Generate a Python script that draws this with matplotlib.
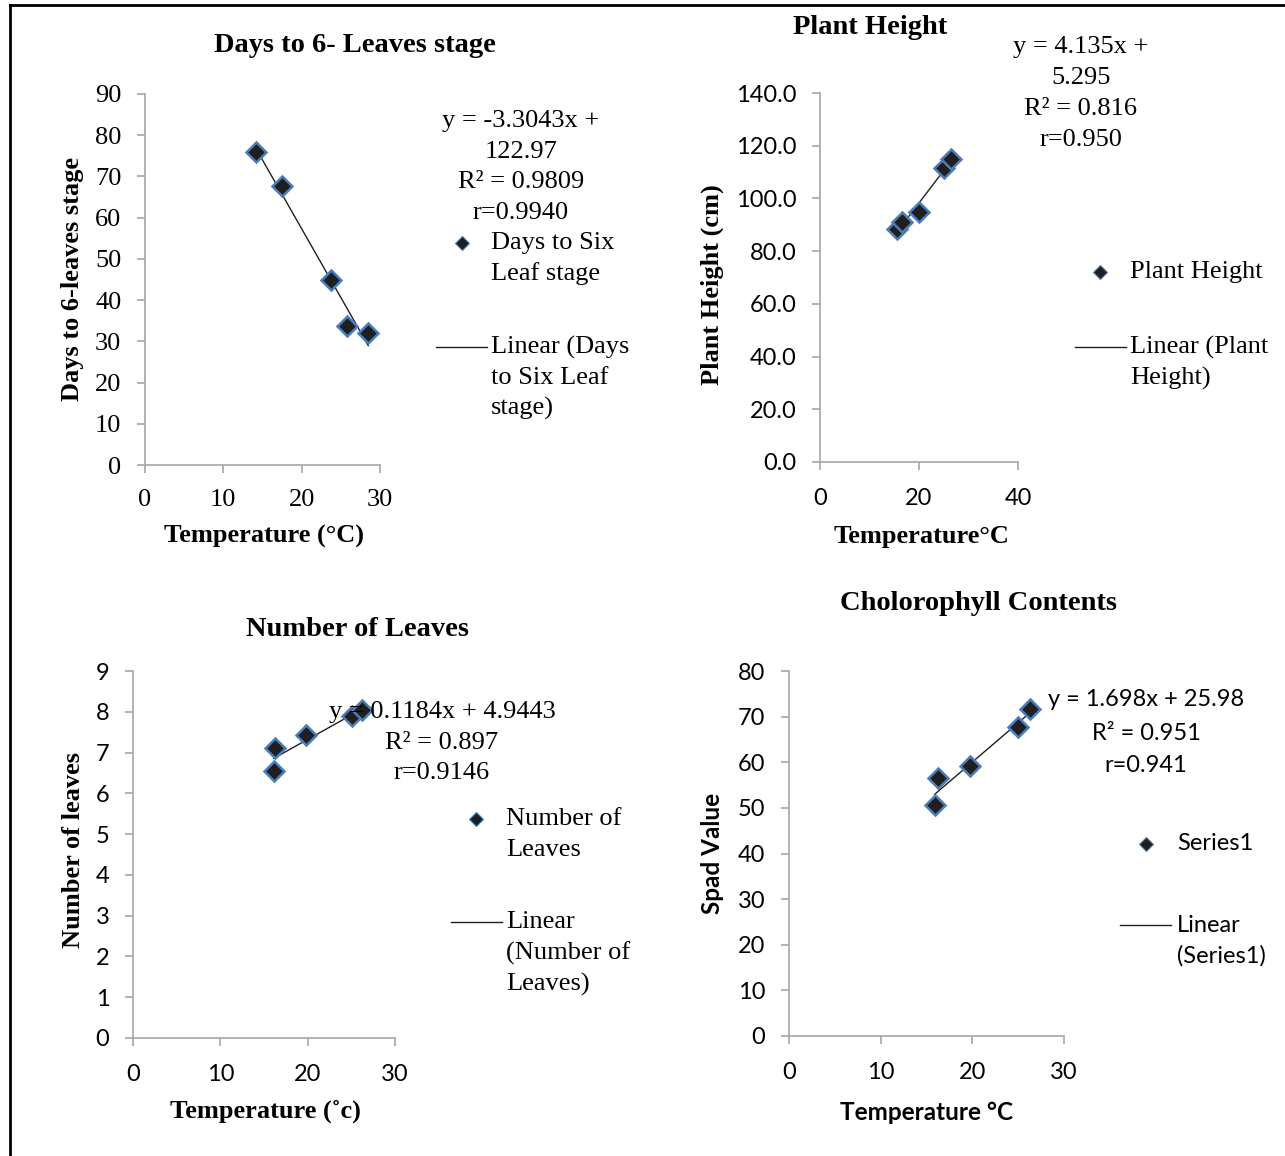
import matplotlib
matplotlib.use("Agg")
import matplotlib.pyplot as plt
import numpy as np

# ---------------------------------------------------------------
# data (temperature vs. each trait)
# ---------------------------------------------------------------
temp_days = [14.2, 17.5, 23.7, 25.8, 28.5]
days_six_leaf = [75.9, 67.7, 44.9, 33.7, 32.0]

temp_height = [15.6, 16.6, 20.0, 25.1, 26.5]
plant_height = [88.4, 91.0, 94.8, 111.6, 114.9]

temp_leaves = [16.1, 16.3, 19.8, 25.1, 26.2]
n_leaves = [6.55, 7.11, 7.43, 7.90, 8.04]

temp_spad = [15.9, 16.3, 19.7, 25.0, 26.3]
spad_value = [50.6, 56.5, 59.2, 67.7, 71.7]

eq_days = ["y = -3.3043x +", "122.97", "R² = 0.9809", "r=0.9940"]
eq_height = ["y = 4.135x +", "5.295", "R² = 0.816", "r=0.950"]
eq_leaves = ["y = 0.1184x + 4.9443", "R² = 0.897", "r=0.9146"]
eq_spad = ["y = 1.698x + 25.98", "R² = 0.951", "r=0.941"]

SERIF = "Liberation Serif"
SANS = "Lato"
W, H = 1285, 1156
TS = 19      # serif text size
TT = 20.5    # serif titles
SS = 17      # sans text size


def fx(x):
    return x / W


def fy(y):
    return 1 - y / H


def box(l, t, r, b):
    return [fx(l), fy(b), (r - l) / W, (b - t) / H]


fig = plt.figure(figsize=(W / 100, H / 100), dpi=100)

# outer frame (only top and left are visible in the reference)
fig.add_artist(plt.Line2D([fx(10), fx(10)], [fy(5), 0], color="black", lw=2))
fig.add_artist(plt.Line2D([fx(10), 1], [fy(5), fy(5)], color="black", lw=2))


def panel(rect, x, y, xlim, xticks, ylim, yticks, tickfont, yfmt="%g"):
    ax = fig.add_axes(rect)
    ax.plot(x, y, linestyle="none", marker="D", markersize=10,
            markerfacecolor="#1f1f1f", markeredgecolor="#4a7ebb",
            markeredgewidth=1.8, zorder=3, clip_on=False)
    k, c = np.polyfit(x, y, 1)
    xs = np.array([min(x), max(x)])
    ax.plot(xs, k * xs + c, color="#202020", lw=1.0, zorder=2)
    ax.set_xlim(xlim)
    ax.set_ylim(ylim)
    ax.set_xticks(xticks)
    ax.set_yticks(yticks)
    ax.set_yticklabels([yfmt % v for v in yticks])
    for s in ["top", "right"]:
        ax.spines[s].set_visible(False)
    for s in ["left", "bottom"]:
        ax.spines[s].set_color("#a6a6a6")
        ax.spines[s].set_linewidth(1.2)
    ax.tick_params(direction="out", length=6, width=1.2, color="#a6a6a6",
                   labelsize=TS if tickfont == SERIF else SS)
    ax.tick_params(axis="y", pad=11)
    ax.tick_params(axis="x", pad=11 if tickfont == SERIF else 13)
    for lab in ax.get_xticklabels() + ax.get_yticklabels():
        lab.set_fontfamily(tickfont)
    return ax


def lines_text(cx, y0, step, lines, font, size):
    for i, s in enumerate(lines):
        fig.text(fx(cx), fy(y0 + i * step), s, ha="center", va="center",
                 family=font, fontsize=size)


def legend(mx, my, ly, lx0, lx1, tx, mark_lines, lin_lines, step, font, size):
    fig.add_artist(plt.Line2D([fx(mx)], [fy(my)], marker="D", markersize=7.5,
                              markerfacecolor="#1f1f1f", markeredgecolor="#4a7ebb",
                              markeredgewidth=0.8, linestyle="none"))
    for i, s in enumerate(mark_lines):
        fig.text(fx(tx), fy(my + i * step), s, ha="left", va="center",
                 family=font, fontsize=size)
    fig.add_artist(plt.Line2D([fx(lx0), fx(lx1)], [fy(ly), fy(ly)],
                              color="#202020", lw=1.0))
    for i, s in enumerate(lin_lines):
        fig.text(fx(tx), fy(ly + i * step), s, ha="left", va="center",
                 family=font, fontsize=size)


# ---------------- Panel 1: days to 6-leaves stage ----------------
ax1 = panel(box(145, 94, 380, 465), temp_days, days_six_leaf, (0, 30),
            [0, 10, 20, 30], (0, 90), list(range(0, 91, 10)), SERIF)
fig.text(fx(355), fy(45), "Days to 6- Leaves stage", ha="center", va="center",
         family=SERIF, fontsize=TT, fontweight="bold")
fig.text(fx(73), fy(279), "Days to 6-leaves stage", ha="center", va="center",
         rotation=90, family=SERIF, fontsize=TS, fontweight="bold")
fig.text(fx(264), fy(536), "Temperature (°C)", ha="center", va="center",
         family=SERIF, fontsize=TS, fontweight="bold")
lines_text(521, 121, 30.7, eq_days, SERIF, TS)
legend(462, 243, 347, 436, 487, 491, ["Days to Six", "Leaf stage"],
       ["Linear (Days", "to Six Leaf", "stage)"], 30.7, SERIF, TS)

# ---------------- Panel 2: plant height ----------------
ax2 = panel(box(820, 93, 1018, 462), temp_height, plant_height, (0, 40),
            [0, 20, 40], (0, 140), list(range(0, 141, 20)), SANS, "%.1f")
fig.text(fx(870), fy(28), "Plant Height", ha="center", va="center",
         family=SERIF, fontsize=TT, fontweight="bold")
fig.text(fx(712), fy(285), "Plant Height (cm)", ha="center", va="center",
         rotation=90, family=SERIF, fontsize=TS, fontweight="bold")
fig.text(fx(921), fy(536), "Temperature°C", ha="center", va="center",
         family=SERIF, fontsize=TS, fontweight="bold")
lines_text(1081, 47, 31, eq_height, SERIF, TS)
legend(1100, 272, 347, 1075, 1126, 1130, ["Plant Height"],
       ["Linear (Plant", "Height)"], 31, SERIF, TS)

# ---------------- Panel 3: number of leaves ----------------
ax3 = panel(box(133, 671, 395, 1038), temp_leaves, n_leaves, (0, 30),
            [0, 10, 20, 30], (0, 9), list(range(0, 10)), SANS)
fig.text(fx(357), fy(629), "Number of Leaves", ha="center", va="center",
         family=SERIF, fontsize=TT, fontweight="bold")
fig.text(fx(73), fy(850), "Number of leaves", ha="center", va="center",
         rotation=90, family=SERIF, fontsize=TS, fontweight="bold")
fig.text(fx(265), fy(1111), "Temperature (˚c)", ha="center", va="center",
         family=SERIF, fontsize=TS, fontweight="bold")
lines_text(442, 712, 30.7, eq_leaves, SERIF, TS)
legend(476, 819, 922, 451, 502, 506, ["Number of", "Leaves"],
       ["Linear", "(Number of", "Leaves)"], 31, SERIF, TS)

# ---------------- Panel 4: chlorophyll contents ----------------
ax4 = panel(box(789, 671, 1064, 1036), temp_spad, spad_value, (0, 30),
            [0, 10, 20, 30], (0, 80), list(range(0, 81, 10)), SANS)
fig.text(fx(979), fy(604), "Cholorophyll Contents", ha="center", va="center",
         family=SERIF, fontsize=TT, fontweight="bold")
fig.text(fx(713), fy(853), "Spad Value", ha="center", va="center",
         rotation=90, family=SANS, fontsize=17.5, fontweight="bold")
fig.text(fx(926), fy(1112), "Temperature °C", ha="center", va="center",
         family=SANS, fontsize=17.5, fontweight="bold")
lines_text(1146, 700, 33, eq_spad, SANS, SS)
legend(1146, 844, 925, 1120, 1171, 1177, ["Series1"],
       ["Linear", "(Series1)"], 31, SANS, SS)

fig.savefig("out.png", dpi=100)
